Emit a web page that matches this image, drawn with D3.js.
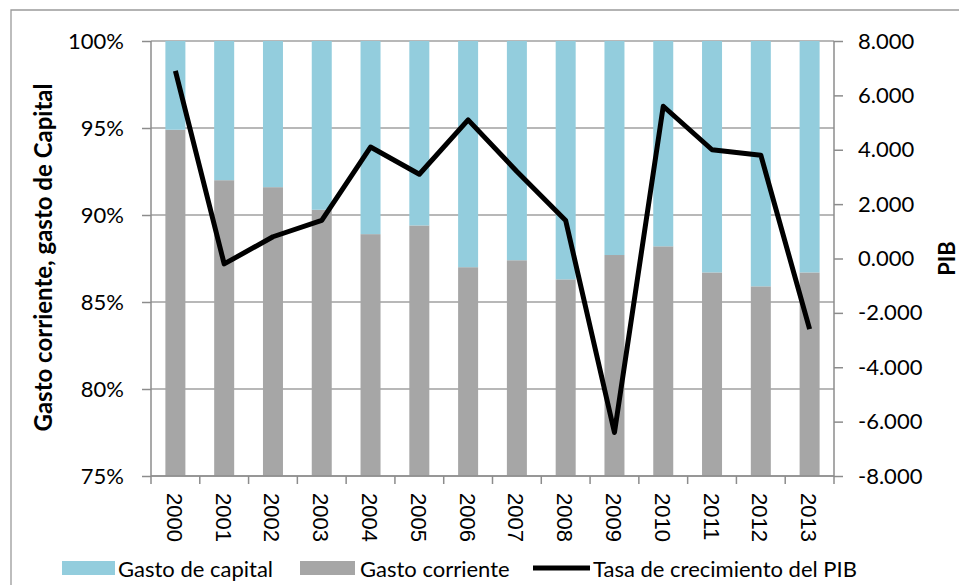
<!DOCTYPE html>
<html>
<head>
<meta charset="utf-8">
<script src="https://cdn.jsdelivr.net/npm/d3@7"></script>
<style>
	body { margin: 0; background: #fff; }
	svg { display: block; font-family: Lato, "Open Sans", sans-serif; }
</style>
</head>
<body>
<svg id="chart" width="959" height="585"></svg>
<script>
// datos
var years = ["2000", "2001", "2002", "2003", "2004", "2005", "2006", "2007", "2008", "2009", "2010", "2011", "2012", "2013"];
var gastoCorriente = [94.9, 92.0, 91.6, 90.3, 88.9, 89.4, 87.0, 87.4, 86.3, 87.7, 88.2, 86.7, 85.9, 86.7];
var gastoCapital = [5.1, 8.0, 8.4, 9.7, 11.1, 10.6, 13.0, 12.6, 13.7, 12.3, 11.8, 13.3, 14.1, 13.3];
var pib = [6.9, -0.2, 0.8, 1.4, 4.1, 3.1, 5.1, 3.2, 1.4, -6.4, 5.6, 4.0, 3.8, -2.6];
var leftTicks = [75, 80, 85, 90, 95, 100];
var rightTicks = [-8, -6, -4, -2, 0, 2, 4, 6, 8];
var legendLabels = ["Gasto de capital", "Gasto corriente", "Tasa de crecimiento del PIB"];

var colCapital = "#93cddd";
var colCorriente = "#a6a6a6";
var gridCol = "#a0a0a0";

var svg = d3.select("#chart");

// area de trazado
var pLeft = 151, pRight = 834, pTop = 41, pBottom = 476;

var x = d3.scaleBand().domain(years).range([pLeft, pRight]);
var yL = d3.scaleLinear().domain([75, 100]).range([pBottom, pTop]);
var yR = d3.scaleLinear().domain([-8, 8]).range([pBottom, pTop]);

var fmtR = d3.formatLocale({decimal: ".", thousands: ",", grouping: [3], currency: ["", ""], minus: "-"}).format(".3f");

// borde exterior
svg.append("path")
	.attr("d", "M11,585 L11,10 L959,10")
	.attr("fill", "none")
	.attr("stroke", "#9a9a9a")
	.attr("stroke-width", 1.3);

// lineas de cuadricula
svg.selectAll("line.grid").data(leftTicks)
	.enter().append("line")
		.attr("class", "grid")
		.attr("x1", pLeft).attr("x2", pRight)
		.attr("y1", function(d) {return yL(d)})
		.attr("y2", function(d) {return yL(d)})
		.attr("stroke", gridCol)
		.attr("stroke-width", 1.5);

// barras
var barW = x.bandwidth() * 0.41;
var bars = svg.append("g");
bars.selectAll("rect.corr").data(years)
	.enter().append("rect")
		.attr("x", function(d) {return x(d) + (x.bandwidth() - barW) / 2})
		.attr("width", barW)
		.attr("y", function(d, i) {return yL(gastoCorriente[i])})
		.attr("height", function(d, i) {return yL(75) - yL(gastoCorriente[i])})
		.attr("fill", colCorriente);
bars.selectAll("rect.cap").data(years)
	.enter().append("rect")
		.attr("x", function(d) {return x(d) + (x.bandwidth() - barW) / 2})
		.attr("width", barW)
		.attr("y", function(d, i) {return yL(gastoCorriente[i] + gastoCapital[i])})
		.attr("height", function(d, i) {return yL(gastoCorriente[i]) - yL(gastoCorriente[i] + gastoCapital[i])})
		.attr("fill", colCapital);

// ejes
var axL = svg.append("g")
	.attr("transform", "translate(" + pLeft + ",0)")
	.call(d3.axisLeft(yL).tickValues(leftTicks).tickSize(9).tickPadding(18).tickFormat(function(d) {return d + "%"}));
var axR = svg.append("g")
	.attr("transform", "translate(" + pRight + ",0)")
	.call(d3.axisRight(yR).tickValues(rightTicks).tickSize(9).tickPadding(15).tickFormat(fmtR));
var axB = svg.append("g")
	.attr("transform", "translate(0," + pBottom + ")")
	.call(d3.axisBottom(x).tickSize(0).tickFormat(""));

[axL, axR, axB].forEach(function(a) {
	a.selectAll("path.domain").attr("stroke", "#8c8c8c").attr("stroke-width", 1.5);
	a.selectAll(".tick line").attr("stroke", "#8c8c8c").attr("stroke-width", 1.5);
	a.selectAll("text").attr("font-family", "Lato, sans-serif").attr("font-size", 22).attr("fill", "#000");
});
axL.select("path.domain").attr("d", "M0," + pBottom + "V" + pTop);
axR.select("path.domain").attr("d", "M0," + pBottom + "V" + pTop);
axB.select("path.domain").attr("d", "M" + pLeft + ",0H" + pRight);

// marcas del eje x en los limites de cada categoria
var bounds = years.map(function(d) {return x(d)}).concat([pRight]);
axB.selectAll("line.bt").data(bounds)
	.enter().append("line")
		.attr("x1", function(d) {return d}).attr("x2", function(d) {return d})
		.attr("y1", 0).attr("y2", 8)
		.attr("stroke", "#8c8c8c").attr("stroke-width", 1.5);

axB.selectAll("text.year").data(years)
	.enter().append("text")
		.attr("class", "year")
		.attr("transform", function(d) {return "translate(" + (x(d) + x.bandwidth() / 2 - 1) + ",17) rotate(90)"})
		.attr("text-anchor", "start")
		.attr("dominant-baseline", "central")
		.attr("font-size", 22)
		.attr("fill", "#000")
		.text(function(d) {return d});

// linea del PIB
var line = d3.line()
	.x(function(d, i) {return x(years[i]) + x.bandwidth() / 2})
	.y(function(d) {return yR(d)});
svg.append("path")
	.datum(pib)
	.attr("d", line)
	.attr("fill", "none")
	.attr("stroke", "#000")
	.attr("stroke-width", 5)
	.attr("stroke-linejoin", "round");

// titulos de ejes
svg.append("text")
	.attr("transform", "translate(42," + ((pTop + pBottom) / 2 - 1) + ") rotate(-90)")
	.attr("text-anchor", "middle")
	.attr("dominant-baseline", "central")
	.attr("font-size", 24)
	.attr("font-weight", "bold")
	.text("Gasto corriente, gasto de Capital");
svg.append("text")
	.attr("transform", "translate(955," + (yR(0)) + ") rotate(-90)")
	.attr("text-anchor", "middle")
	.attr("font-size", 22)
	.attr("font-weight", "bold")
	.text("PIB");

// leyenda
var legend = svg.append("g").attr("transform", "translate(0,568)");
var legX = [62, 300, 533];
legend.append("rect").attr("x", legX[0]).attr("y", -7).attr("width", 53).attr("height", 14).attr("fill", colCapital);
legend.append("rect").attr("x", legX[1]).attr("y", -7).attr("width", 55).attr("height", 14).attr("fill", colCorriente);
legend.append("line").attr("x1", legX[2]).attr("x2", legX[2] + 57).attr("y1", 0).attr("y2", 0)
	.attr("stroke", "#000").attr("stroke-width", 5);
legend.selectAll("text").data(legendLabels)
	.enter().append("text")
		.attr("x", function(d, i) {return [118, 360, 593][i]})
		.attr("dominant-baseline", "central")
		.attr("font-size", 22)
		.text(function(d) {return d});
</script>
</body>
</html>
